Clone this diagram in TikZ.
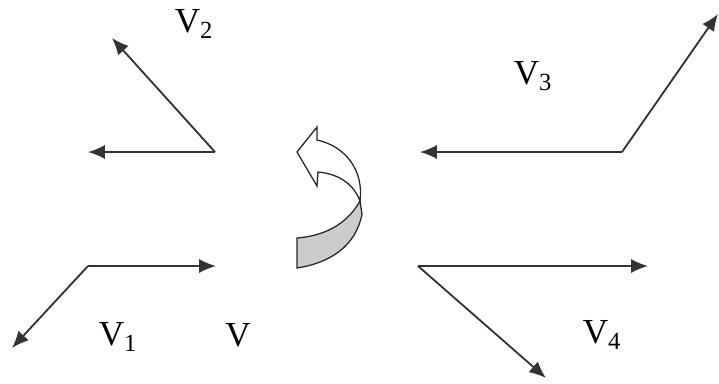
\documentclass[tikz,border=0pt]{standalone}
\usepackage{fontspec}
\setmainfont{Liberation Serif}
\usetikzlibrary{arrows.meta}

\begin{document}
\begin{tikzpicture}[x=0.025cm,y=-0.025cm,>={Latex[length=12pt,width=10pt]},
  vec/.style={->,line width=1.3pt,draw=black!80},
  lbl/.style={inner sep=0pt,font=\fontsize{25}{30}\selectfont}]
\useasboundingbox (0,0) rectangle (719,383);
% vertices and tips
\coordinate (O2) at (215,152);
\coordinate (A2) at (112,38);
\coordinate (B2) at (88,152);
\coordinate (O1) at (88,266);
\coordinate (A1) at (216,266);
\coordinate (B1) at (12,348);
\coordinate (O3) at (622,152);
\coordinate (A3) at (718,14);
\coordinate (B3) at (420,152);
\coordinate (O4) at (418,266);
\coordinate (A4) at (648,266);
\coordinate (B4) at (546,378);
\draw[vec] (O2)--(A2);
\draw[vec] (O2)--(B2);
\draw[vec] (O1)--(A1);
\draw[vec] (O1)--(B1);
\draw[vec] (O3)--(A3);
\draw[vec] (O3)--(B3);
\draw[vec] (O4)--(A4);
\draw[vec] (O4)--(B4);
\node[lbl] (L2) at (194,24) {V\textsubscript{2}};
\node[lbl] (L1) at (118,337) {V\textsubscript{1}};
\node[lbl] (L0) at (238,335) {V};
\node[lbl] (L3) at (533,76) {V\textsubscript{3}};
\node[lbl] (L4) at (602,335) {V\textsubscript{4}};
% rotation ribbon
\draw[line width=0.9pt,draw=black!85,fill=black!20] (360,201) .. controls (346,226) and (322,236) .. (297,238)
  -- (297,268) .. controls (330,263) and (356,246) .. (362,214) -- cycle;
\draw[line width=0.9pt,draw=black!85,fill=white] (360,201) .. controls (364,170) and (345,146) .. (317,140)
  -- (317,127) -- (297,152) -- (317,186) -- (318,172)
  .. controls (340,174) and (354,185) .. cycle;
\end{tikzpicture}
\end{document}
